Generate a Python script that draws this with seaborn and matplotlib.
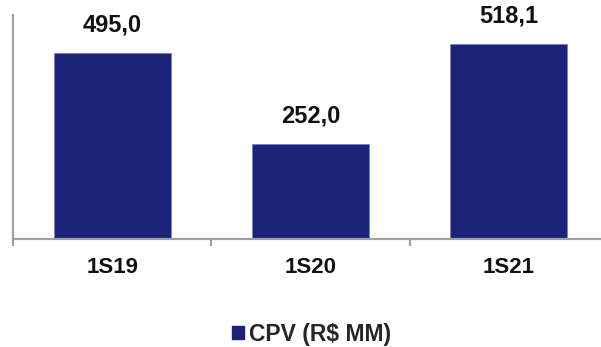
import matplotlib
matplotlib.use("Agg")
import matplotlib.pyplot as plt
import seaborn as sns
import pandas as pd
from matplotlib.patches import Patch

categories = ["1S19", "1S20", "1S21"]
values = [495.0, 252.0, 518.1]
value_labels = ["495,0", "252,0", "518,1"]
series_name = "CPV (R$ MM)"

sns.set_theme(style="white")
plt.rcParams["font.family"] = ["Liberation Sans", "DejaVu Sans"]

bar_color = "#1B2378"
spine_color = "#A0A0A0"

W, H = 601, 347
fig = plt.figure(figsize=(W / 100, H / 100), dpi=100)
left, right, bottom, top = 13, 608, 239, 15
ax = fig.add_axes([left / W, 1 - bottom / H, (right - left) / W, (bottom - top) / H])

df = pd.DataFrame({"periodo": categories, "valor": values})
sns.barplot(data=df, x="periodo", y="valor", color=bar_color, saturation=1,
            width=0.59, edgecolor="#7C82C4", linewidth=0.7, ax=ax)

ax.set_xlim(-0.5, 2.5)
ax.set_ylim(0, 596)
ax.set_xlabel("")
ax.set_ylabel("")
ax.set_yticks([])

for s in ["top", "right"]:
    ax.spines[s].set_visible(False)
for s in ["left", "bottom"]:
    ax.spines[s].set_color(spine_color)
    ax.spines[s].set_linewidth(1.6)

ax.tick_params(axis="x", which="major", length=0, pad=13, labelsize=16)
for lbl in ax.get_xticklabels():
    lbl.set_fontweight("bold")
    lbl.set_color("#111111")
ax.set_xticks([0.5, 1.5, -0.5], minor=True)
ax.tick_params(axis="x", which="minor", length=5, width=1.6, color=spine_color, bottom=True)

for i, (v, t) in enumerate(zip(values, value_labels)):
    ax.annotate(t, (i, v), xytext=(0, 12), textcoords="offset points",
                ha="center", va="bottom", fontsize=17, fontweight="bold", color="#111111")

handle = Patch(facecolor=bar_color, edgecolor=bar_color)
fig.legend([handle], [series_name], loc="center", bbox_to_anchor=(0.518, 1 - 334 / H),
           frameon=False, prop={"weight": "bold", "size": 16.5},
           handlelength=0.52, handleheight=0.52, handletextpad=0.2)

fig.savefig("out.png", dpi=100)
